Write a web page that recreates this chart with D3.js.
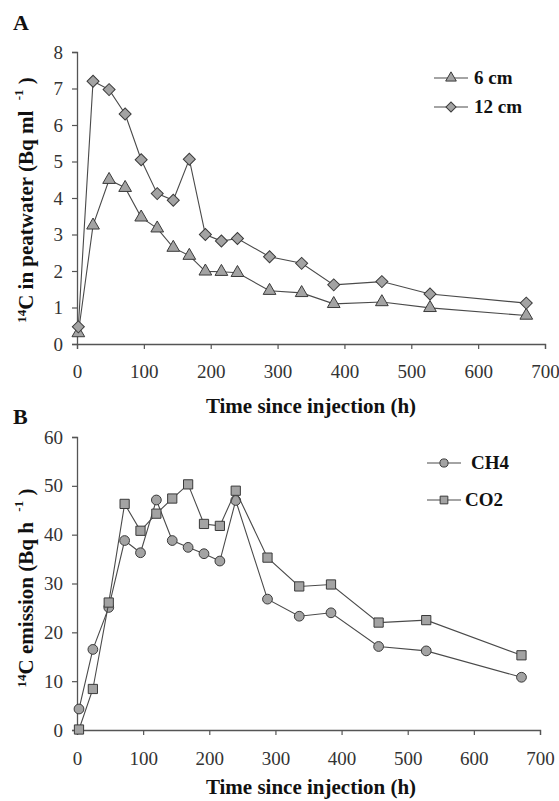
<!DOCTYPE html>
<html><head><meta charset="utf-8">
<script src="https://cdn.jsdelivr.net/npm/d3@7"></script>
<style>body{margin:0;background:#fff}svg{display:block}</style>
</head><body>
<svg id="c" width="559" height="801"></svg>
<script>
const timesA = [2,24,48,72,96,120,144,168,192,216,240,288,336,384,456,528,672];
const cm6 = [0.3,3.25,4.5,4.28,3.47,3.17,2.64,2.42,1.99,1.98,1.95,1.46,1.4,1.1,1.15,0.99,0.78];
const cm12 = [0.47,7.2,6.97,6.3,5.05,4.12,3.94,5.06,3.0,2.82,2.89,2.39,2.21,1.62,1.71,1.37,1.12];
const timesB = [3,24,48,72,96,120,144,168,192,216,240,288,336,384,456,528,672];
const ch4 = [4.3,16.5,25.1,38.8,36.3,47.1,38.8,37.4,36.1,34.6,47.0,26.8,23.3,24.0,17.1,16.2,10.8];
const co2 = [0.1,8.4,26.1,46.3,40.8,44.3,47.4,50.3,42.2,41.8,49.0,35.3,29.4,29.8,22.0,22.5,15.3];
const xTicks = [0,100,200,300,400,500,600,700];
const yTicksA = [0,1,2,3,4,5,6,7,8];
const yTicksB = [0,10,20,30,40,50,60];

const svg = d3.select("#c");
const FILL = "#a3a3a3", STROKE = "#3a3a3a", LINE = "#4a4a4a", AX = "#555";
const serif = "'Liberation Serif','Times New Roman',serif";

function panel(o){
  const x = d3.scaleLinear().domain([0,700]).range([o.x0,o.x1]);
  const y = d3.scaleLinear().domain(o.ydom).range([o.y0,o.y1]);
  const g = svg.append("g");
  const xa = g.append("g").attr("transform",`translate(0,${o.y0})`)
    .call(d3.axisBottom(x).tickValues(xTicks).tickSize(5).tickPadding(o.xpad).tickFormat(d3.format("d")));
  const ya = g.append("g").attr("transform",`translate(${o.x0},0)`)
    .call(d3.axisLeft(y).tickValues(o.yticks).tickSize(5).tickPadding(9).tickFormat(d3.format("d")));
  [xa,ya].forEach(a=>{
    a.select(".domain").attr("stroke",AX).attr("stroke-width",1.3);
    a.selectAll(".tick line").attr("stroke",AX).attr("stroke-width",1.2);
    a.selectAll("text").attr("font-family",serif).attr("font-size",19).attr("fill","#333");
  });
  // x title
  g.append("text").attr("x",311).attr("y",o.xtY).attr("text-anchor","middle")
    .attr("font-family",serif).attr("font-weight","bold").attr("font-size",21).attr("fill","#111")
    .text("Time since injection (h)");
  // y title
  const yt = g.append("text").attr("transform",`translate(${o.ytX},${o.ytY}) rotate(-90)`)
    .attr("text-anchor","middle").attr("font-family",serif).attr("font-weight","bold")
    .attr("font-size",21).attr("fill","#111").attr("xml:space","preserve");
  yt.append("tspan").attr("font-size",13).attr("dy",-7).text("14");
  yt.append("tspan").attr("dy",7).text(o.ytitle);
  yt.append("tspan").attr("font-size",13).attr("dy",-10).text("-1");
  yt.append("tspan").attr("dy",10).text(" )");
  // panel letter
  g.append("text").attr("x",o.lx).attr("y",o.ly).attr("font-family",serif).attr("font-weight","bold")
    .attr("font-size",22).attr("fill","#111").text(o.letter);
  // series
  o.series.forEach(s=>{
    const pts = s.times.map((t,i)=>[x(t),y(s.vals[i])]);
    g.append("path").attr("d",d3.line()(pts)).attr("fill","none").attr("stroke",LINE).attr("stroke-width",1.1);
    const sym = d3.symbol().type(s.sym).size(s.size);
    g.selectAll(null).data(pts).enter().append("path").attr("d",sym)
      .attr("transform",d=>`translate(${d[0]},${d[1]})`+(s.rot?` rotate(${s.rot})`:""))
      .attr("fill",FILL).attr("stroke",STROKE).attr("stroke-width",1);
    // legend
    const lg = g.append("g");
    lg.append("line").attr("x1",s.lx).attr("x2",s.lx+34).attr("y1",s.ly).attr("y2",s.ly).attr("stroke",LINE).attr("stroke-width",1.1);
    lg.append("path").attr("d",d3.symbol().type(s.sym).size(s.size*0.7)).attr("transform",`translate(${s.lx+17},${s.ly})`+(s.rot?` rotate(${s.rot})`:""))
      .attr("fill",FILL).attr("stroke",STROKE).attr("stroke-width",1);
    lg.append("text").attr("x",s.tx).attr("y",s.ly+6).attr("font-family",serif).attr("font-weight","bold")
      .attr("font-size",19).attr("fill","#111").text(s.name);
  });
}

panel({x0:77,x1:545,y0:344,y1:52,ydom:[0,8],yticks:yTicksA,xpad:16,xtY:413,ytX:33,ytY:200,
  ytitle:"C in peatwater (Bq ml  ",letter:"A",lx:13,ly:30,
  series:[
    {times:timesA,vals:cm6,sym:d3.symbolTriangle,size:70,name:"6 cm",lx:434,ly:78,tx:474},
    {times:timesA,vals:cm12,sym:d3.symbolSquare,size:72,rot:45,name:"12 cm",lx:434,ly:107,tx:474}
  ]});
panel({x0:77,x1:540,y0:730,y1:437,ydom:[0,60],yticks:yTicksB,xpad:17,xtY:794,ytX:33,ytY:588,
  ytitle:"C emission (Bq h  ",letter:"B",lx:13,ly:424,
  series:[
    {times:timesB,vals:ch4,sym:d3.symbolCircle,size:75,name:"CH4",lx:427,ly:463,tx:471},
    {times:timesB,vals:co2,sym:d3.symbolSquare,size:85,name:"CO2",lx:427,ly:500,tx:465}
  ]});
</script>
</body></html>
